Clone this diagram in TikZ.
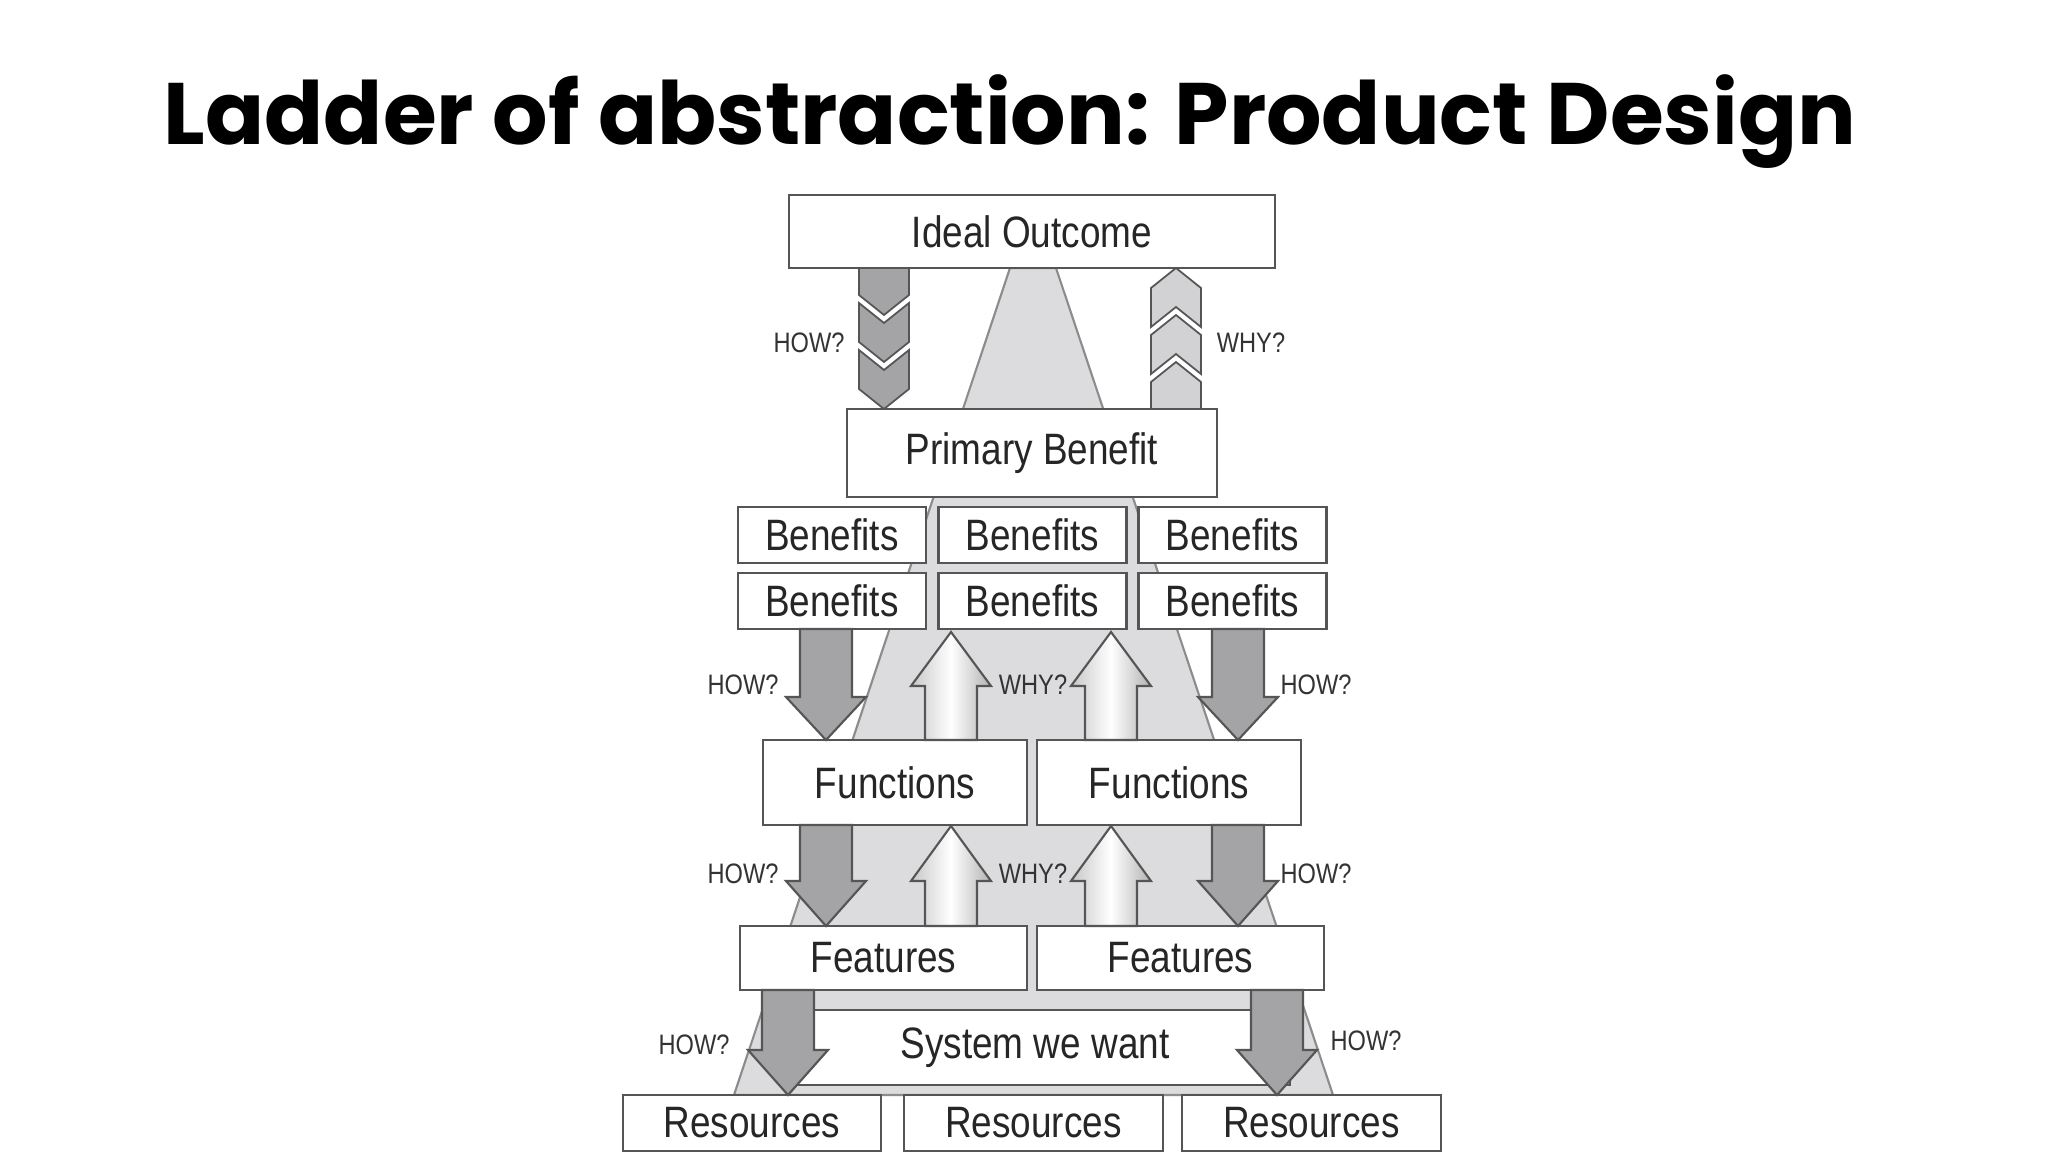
\documentclass[tikz,border=0pt]{standalone}
\usepackage{fontspec}
\setmainfont{Liberation Sans}
\newfontfamily\cond[FakeStretch=0.84]{Liberation Sans}
\newfontfamily\titlefont{Poppins}
\definecolor{trap}{HTML}{DCDCDE}
\definecolor{edge}{HTML}{555555}
\definecolor{dark}{HTML}{A4A4A6}
\definecolor{chevlight}{HTML}{D2D2D4}
\tikzset{
  box/.style={draw=edge,fill=white,line width=0.7pt,inner sep=0pt},
  lbl/.style={font=\cond\fontsize{12.5}{14}\selectfont,text=black!85},
  qlbl/.style={font=\cond\fontsize{8}{9}\selectfont,text=black!80},
  darr/.style={draw=edge,fill=dark,line width=0.6pt,line join=miter},
  uarr/.style={draw=edge,line width=0.6pt,left color=black!22,right color=black!30,middle color=white},
  chev/.style={draw=edge,line width=0.5pt,line join=miter}
}
\newcommand{\dnarrow}[4]{\path[darr] ({#1-26},#2)--({#1+26},#2)--({#1+26},#3)--({#1+40},#3)--(#1,#4)--({#1-40},#3)--({#1-26},#3)--cycle;}
\newcommand{\uparr}[4]{\path[uarr] ({#1-26},#2)--({#1+26},#2)--({#1+26},#3)--({#1+40},#3)--(#1,#4)--({#1-40},#3)--({#1-26},#3)--cycle;}
\begin{document}
\begin{tikzpicture}[x=0.01cm,y=-0.01cm]
\useasboundingbox (0,0) rectangle (2048,1152);
\fill[white] (0,0) rectangle (2048,1152);
\node[font=\titlefont\bfseries\fontsize{24.8}{28}\selectfont] (title) at (1010,122) {Ladder of abstraction: Product Design};
% trapezoid
\path[fill=trap,draw=black!45,line width=0.6pt] (1010,268)--(1056,268)--(1333,1095)--(734,1095)--cycle;
% chevrons down
\path[chev,fill=dark] (859,268)--(909,268)--(909,295)--(884,315)--(859,295)--cycle;
\path[chev,fill=dark] (859,303)--(884,323)--(909,303)--(909,342)--(884,362)--(859,342)--cycle;
\path[chev,fill=dark] (859,350)--(884,370)--(909,350)--(909,389)--(884,409)--(859,389)--cycle;
% chevrons up
\path[chev,fill=chevlight] (1151,409)--(1201,409)--(1201,382)--(1176,362)--(1151,382)--cycle;
\path[chev,fill=chevlight] (1151,374)--(1176,354)--(1201,374)--(1201,335)--(1176,315)--(1151,335)--cycle;
\path[chev,fill=chevlight] (1151,327)--(1176,307)--(1201,327)--(1201,288)--(1176,268)--(1151,288)--cycle;
% boxes
\node[box,minimum width=4.86cm,minimum height=0.73cm,lbl] (ideal) at (1032,231.5) {Ideal Outcome};
\node[box,minimum width=3.70cm,minimum height=0.88cm,lbl] (primary) at (1032,453) {Primary Benefit};
\foreach \n/\x in {a/832,b/1032.5,c/1232.5}{
  \node[box,minimum width=1.88cm,minimum height=0.56cm,lbl] (ben1\n) at (\x,535) {Benefits};
  \node[box,minimum width=1.88cm,minimum height=0.56cm,lbl] (ben2\n) at (\x,601) {Benefits};
}
\node[box,minimum width=2.64cm,minimum height=0.85cm,lbl] (fun1) at (895,782.5) {Functions};
\node[box,minimum width=2.64cm,minimum height=0.85cm,lbl] (fun2) at (1169,782.5) {Functions};
\node[box,minimum width=2.87cm,minimum height=0.64cm,lbl] (fea1) at (883.5,958) {Features};
\node[box,minimum width=2.87cm,minimum height=0.64cm,lbl] (fea2) at (1180.5,958) {Features};
\node[box,minimum width=5.10cm,minimum height=0.75cm,lbl] (sys) at (1035,1047.5) {System we want};
\node[box,minimum width=2.58cm,minimum height=0.56cm,lbl] (res1) at (752,1123) {Resources};
\node[box,minimum width=2.59cm,minimum height=0.56cm,lbl] (res2) at (1033.5,1123) {Resources};
\node[box,minimum width=2.59cm,minimum height=0.56cm,lbl] (res3) at (1311.5,1123) {Resources};
% arrows
\dnarrow{826}{629}{697}{740}
\dnarrow{1238}{629}{697}{740}
\uparr{951}{740}{686}{632}
\uparr{1111}{740}{686}{632}
\dnarrow{826}{825}{881}{926}
\dnarrow{1238}{825}{881}{926}
\uparr{951}{926}{881}{826}
\uparr{1111}{926}{881}{826}
\dnarrow{788}{990}{1050}{1095}
\dnarrow{1277}{990}{1050}{1095}
% labels
\node[qlbl] (h0) at (809,343) {HOW?};
\node[qlbl] (w0) at (1251,343) {WHY?};
\node[qlbl] (h1) at (743,685) {HOW?};
\node[qlbl] (h2) at (1316,685) {HOW?};
\node[qlbl] (w1) at (1033,685) {WHY?};
\node[qlbl] (h3) at (743,874) {HOW?};
\node[qlbl] (h4) at (1316,874) {HOW?};
\node[qlbl] (w2) at (1033,874) {WHY?};
\node[qlbl] (h5) at (694,1045) {HOW?};
\node[qlbl] (h6) at (1366,1041) {HOW?};
\end{tikzpicture}
\end{document}
